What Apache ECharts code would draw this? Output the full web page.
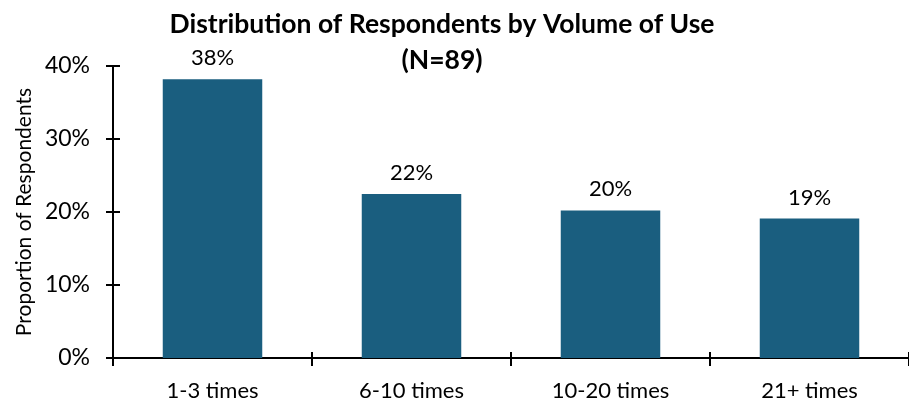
<!DOCTYPE html>
<html>
<head>
<meta charset="utf-8">
<script src="https://cdn.jsdelivr.net/npm/echarts@6/dist/echarts.min.js"></script>
<style>
  html, body { margin: 0; padding: 0; background: #fff; }
  #chart { width: 909px; height: 407px; }
</style>
</head>
<body>
<div id="chart"></div>
<script>
const categories = ['1-3 times', '6-10 times', '10-20 times', '21+ times'];
const shares = [38.2, 22.47, 20.22, 19.1]; // percent of respondents
const yTicks = [0, 10, 20, 30, 40];

const font = 'Lato, "Open Sans", sans-serif';
const chart = echarts.init(document.getElementById('chart'));

const axisLine = { show: true, lineStyle: { color: '#000', width: 2 } };

chart.setOption({
  animation: false,
  title: {
    text: 'Distribution of Respondents by Volume of Use\n(N=89)',
    left: 437,
    top: 1,
    textAlign: 'center',
    textStyle: { fontFamily: font, fontSize: 26.5, fontWeight: 'bold', color: '#000', lineHeight: 36 }
  },
  grid: { left: 113, right: -8, top: 66, bottom: 49 },
  xAxis: [
    {
      type: 'category',
      data: categories,
      axisLine: axisLine,
      axisTick: { show: true, length: 8, lineStyle: { color: '#000', width: 2 } },
      axisLabel: { fontFamily: font, fontSize: 22, color: '#000', margin: 22 }
    },
    {
      type: 'category',
      data: categories,
      position: 'bottom',
      axisLine: { show: false },
      axisTick: { show: true, inside: true, length: 6, lineStyle: { color: '#000', width: 2 } },
      axisLabel: { show: false }
    }
  ],
  yAxis: [
    {
      type: 'value',
      min: yTicks[0],
      max: yTicks[yTicks.length - 1],
      interval: 10,
      name: 'Proportion of Respondents',
      nameLocation: 'middle',
      nameGap: 78,
      nameMoveOverlap: false,
      nameTextStyle: { fontFamily: font, fontSize: 21, color: '#000' },
      axisLine: axisLine,
      axisTick: { show: true, length: 7, lineStyle: { color: '#000', width: 2 } },
      axisLabel: { fontFamily: font, fontSize: 23, color: '#000', margin: 23, formatter: '{value}%' },
      splitLine: { show: false }
    },
    {
      type: 'value',
      min: yTicks[0],
      max: yTicks[yTicks.length - 1],
      interval: 10,
      position: 'left',
      axisLine: { show: false },
      axisTick: { show: true, inside: true, length: 7, lineStyle: { color: '#000', width: 2 } },
      axisLabel: { show: false },
      splitLine: { show: false }
    }
  ],
  series: [
    {
      type: 'bar',
      data: shares,
      barWidth: '50%',
      itemStyle: { color: '#1a5e7f' },
      label: {
        show: true,
        position: 'top',
        distance: 10,
        fontFamily: font,
        fontSize: 22,
        color: '#000',
        formatter: p => Math.round(p.value) + '%'
      }
    }
  ]
});
</script>
</body>
</html>
